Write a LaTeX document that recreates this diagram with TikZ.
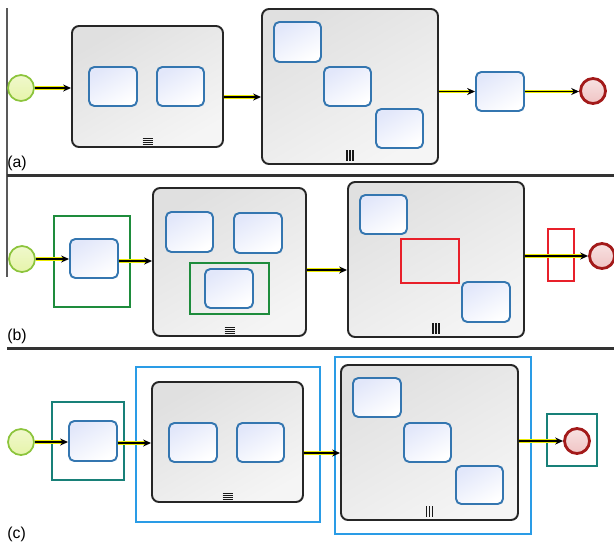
\documentclass[tikz,border=0pt]{standalone}
\usepackage{fontspec}
\setmainfont{Liberation Sans}
\usetikzlibrary{calc,fit,arrows.meta}
\definecolor{taskblue}{RGB}{52,118,176}
\definecolor{taskfill}{RGB}{226,231,250}
\definecolor{spgray}{RGB}{38,38,38}
\definecolor{spfill}{RGB}{224,224,224}
\definecolor{startgreen}{RGB}{140,196,60}
\definecolor{startfill}{RGB}{230,244,170}
\definecolor{endred}{RGB}{163,26,26}
\definecolor{endfill}{RGB}{240,196,196}
\definecolor{flowyellow}{RGB}{235,235,0}
\definecolor{framegreen}{RGB}{30,140,60}
\definecolor{framered}{RGB}{232,32,42}
\definecolor{frameteal}{RGB}{24,128,120}
\definecolor{frameblue}{RGB}{42,156,230}
\tikzset{>={Stealth[length=4.5pt,width=4pt]}}
\tikzset{
    task/.style={draw=taskblue,line width=1.1pt,rounded corners=3pt,inner sep=0pt,
        bottom color=white,top color=taskfill,shading angle=30},
    subproc/.style={draw=spgray,line width=1.1pt,rounded corners=4pt,inner sep=0pt,
        bottom color=white!96!black,top color=spfill,shading angle=30},
    startev/.style={circle,draw=startgreen,line width=1pt,minimum size=0.52cm,inner sep=0pt,
        bottom color=startfill,top color=startfill!60!white},
    endev/.style={circle,draw=endred,line width=1.6pt,minimum size=0.5cm,inner sep=0pt,
        bottom color=endfill,top color=endfill!50!white},
    frame/.style={draw=#1,line width=1.4pt,inner sep=0pt},
    glow/.style={draw=flowyellow,line width=2pt,shorten >=3pt},
    flow/.style={->,draw=black,line width=0.8pt},
    tickline/.style={black!90,line width=0.55pt},
    barline/.style={black!90,line width=1.1pt},
    sepline/.style={black!80,line width=1.7pt},
    leftline/.style={black!65,line width=0.8pt},
    tag/.style={anchor=west,inner sep=0pt,font=\fontsize{9}{11}\selectfont}
}
\begin{document}
\begin{tikzpicture}[x=0.02cm,y=-0.02cm]
    \useasboundingbox (0,0) rectangle (614,545);
    \draw[leftline] (7,8) -- (7,175);
    \draw[leftline] (7,175) -- (7,277);
    \draw[sepline] (7,175) -- (614,175);
    \draw[sepline] (7,348) -- (614,348);

    % (a)
    \node[startev] (sa) at (21,88) {};
    \node[subproc,fit={(72,26) (223,147)}] (a1) {};
    \node[task,fit={(89,67) (137,106)}] (a11) {};
    \node[task,fit={(157,67) (204,106)}] (a12) {};
    \node[subproc,fit={(262,9) (438,164)}] (a2) {};
    \node[task,fit={(274,22) (321,62)}] (a21) {};
    \node[task,fit={(324,67) (371,106)}] (a22) {};
    \node[task,fit={(376,109) (423,148)}] (a23) {};
    \node[task,fit={(476,72) (524,111)}] (a3) {};
    \node[endev] (ea) at (593,91) {};
    \coordinate (a1out) at ($(a1.east)+(0,10.5)$);
    \node[tag] (la) at (7,163.5) {(a)};

    % (b)
    \node[startev] (sb) at (22,259) {};
    \node[frame=framegreen,fit={(54,216) (130,307)}] (gb1) {};
    \node[task,fit={(70,239) (118,278)}] (b1) {};
    \node[subproc,fit={(153,188) (306,336)}] (b2) {};
    \node[task,fit={(166,212) (213,252)}] (b21) {};
    \node[task,fit={(234,213) (282,253)}] (b22) {};
    \node[frame=framegreen,fit={(190,263) (269,314)}] (gb2) {};
    \node[task,fit={(205,269) (253,308)}] (b23) {};
    \node[subproc,fit={(348,182) (524,337)}] (b3) {};
    \node[task,fit={(360,195) (407,234)}] (b31) {};
    \node[frame=framered,fit={(401,239) (459,283)}] (rb1) {};
    \node[task,fit={(462,282) (510,322)}] (b32) {};
    \node[endev] (eb) at (602,256) {};
    \node[frame=framered,fit={(548,229) (574,281)}] (rb2) {};
    \coordinate (b1out) at ($(b1.east)+(0,2.5)$);
    \coordinate (b2out) at ($(b2.east)+(0,8)$);
    \node[tag] (lb) at (7,336) {(b)};

    % (c)
    \node[startev] (sc) at (21,442) {};
    \node[frame=frameteal,fit={(52,402) (124,480)}] (tc1) {};
    \node[task,fit={(69,421) (117,461)}] (c1) {};
    \node[frame=frameblue,fit={(136,367) (320,522)}] (bc1) {};
    \node[subproc,fit={(152,382) (303,502)}] (c2) {};
    \node[task,fit={(169,423) (217,462)}] (c21) {};
    \node[task,fit={(237,423) (284,462)}] (c22) {};
    \node[frame=frameblue,fit={(335,357) (531,534)}] (bc2) {};
    \node[subproc,fit={(341,365) (518,520)}] (c3) {};
    \node[task,fit={(353,378) (401,417)}] (c31) {};
    \node[task,fit={(404,423) (451,462)}] (c32) {};
    \node[task,fit={(456,466) (503,504)}] (c33) {};
    \node[frame=frameteal,fit={(547,414) (597,466)}] (tc2) {};
    \node[endev] (ec) at (577,441) {};
    \coordinate (c1out) at ($(c1.east)+(0,2)$);
    \coordinate (c2out) at ($(c2.east)+(0,11)$);
    \node[tag] (lc) at (7,534) {(c)};

    \foreach \proc in {a1,b2,c2}
        \foreach \k in {0,...,3}
            \draw[tickline] ($(\proc.south)+(-5,-3.5-2*\k)$) -- ++(10,0);
    \foreach \proc in {a2,b3,c3}
        \foreach \k in {-3,0,3}
            \draw[barline] ($(\proc.south)+(\k,-4)$) -- ++(0,-11);

    \foreach \from/\to in {sa.east/sa.east -| a1.west, a1out/a1out -| a2.west,
            a2.east |- a3.west/a3.west, a3.east/a3.east -| ea.west,
            sb.east/sb.east -| b1.west, b1out/b1out -| b2.west,
            b2out/b2out -| b3.west, b3.east |- eb.west/eb.west,
            sc.east/sc.east -| c1.west, c1out/c1out -| c2.west,
            c2out/c2out -| c3.west, c3.east |- ec.west/ec.west} {
        \draw[glow] (\from) -- (\to);
        \draw[flow] (\from) -- (\to);
      }
\end{tikzpicture}
\end{document}
